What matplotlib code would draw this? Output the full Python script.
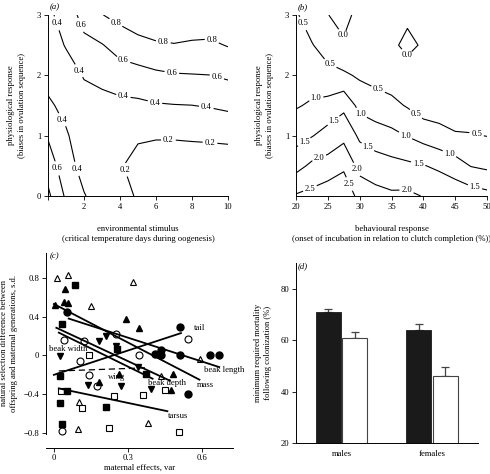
import numpy as np
import matplotlib
matplotlib.use("Agg")
import matplotlib.pyplot as plt

plt.rcParams['font.family'] = ['Liberation Serif', 'DejaVu Serif']
plt.rcParams['font.size'] = 6.2
plt.rcParams['axes.linewidth'] = 0.7

# ---------------- data ----------------
# (a) grid
a_x = [0, 1, 2, 3, 4, 5, 6, 7, 8, 9, 10]
a_y = [0, 0.5, 1.0, 1.5, 2.0, 2.5, 3.0]
a_z = [
    [0.84, 0.57, 0.41, 0.32, 0.25, 0.185, 0.15, 0.13, 0.12, 0.11, 0.10],
    [0.72, 0.47, 0.34, 0.28, 0.21, 0.16, 0.14, 0.14, 0.15, 0.15, 0.15],
    [0.58, 0.42, 0.30, 0.28, 0.25, 0.215, 0.21, 0.21, 0.212, 0.215, 0.22],
    [0.43, 0.35, 0.34, 0.33, 0.35, 0.36, 0.384, 0.393, 0.398, 0.415, 0.444],
    [0.34, 0.33, 0.41, 0.46, 0.508, 0.53, 0.564, 0.585, 0.592, 0.598, 0.629],
    [0.32, 0.41, 0.53, 0.59, 0.68, 0.732, 0.77, 0.788, 0.771, 0.767, 0.81],
    [0.38, 0.44, 0.70, 0.795, 0.86, 0.93, 0.98, 0.99, 0.95, 0.93, 0.99],
]
a_levels = [0.2, 0.4, 0.6, 0.8]

# (b) grid
b_x = [20, 22.5, 25, 27.5, 30, 32.5, 35, 37.5, 40, 42.5, 45, 47.5, 50]
b_y = [0, 0.5, 1.0, 1.5, 2.0, 2.5, 3.0]
b_z = [
    [2.55, 2.65, 2.81, 2.95, 2.30, 2.15, 2.08, 2.10, 1.98, 1.85, 1.85, 1.75, 1.65],
    [1.83, 2.10, 2.19, 2.39, 1.85, 1.75, 1.66, 1.60, 1.52, 1.42, 1.22, 0.98, 0.90],
    [1.30, 1.475, 1.69, 1.87, 1.41, 1.23, 1.13, 0.98, 0.81, 0.65, 0.55, 0.53, 0.49],
    [0.96, 1.06, 1.16, 1.38, 0.85, 0.73, 0.63, 0.46, 0.25, 0.28, 0.20, 0.22, 0.20],
    [0.81, 0.78, 0.64, 0.58, 0.43, 0.33, 0.25, 0.18, 0.12, 0.15, 0.12, 0.12, 0.12],
    [0.66, 0.525, 0.29, 0.06, 0.15, 0.12, 0.08, -0.10, 0.05, 0.10, 0.10, 0.10, 0.10],
    [0.55, 0.27, 0.01, -0.15, 0.15, 0.05, 0.10, 0.08, 0.06, 0.08, 0.10, 0.10, 0.10],
]
b_levels = [0.0, 0.5, 1.0, 1.5, 2.0, 2.5]

# (c) scatter points per marker group
c_filled_circle_x = [0.053, 0.513, 0.41, 0.435, 0.435, 0.513, 0.632, 0.670, 0.543]
c_filled_circle_y = [0.45, 0.29, 0.01, 0.057, 0.0, 0.0, 0.0, 0.0, -0.40]
c_open_circle_x = [0.042, 0.122, 0.252, 0.343, 0.543, 0.104, 0.142, 0.175, 0.031]
c_open_circle_y = [0.16, 0.152, 0.222, 0.008, 0.172, -0.062, -0.205, -0.31, -0.78]
c_filled_tri_x = [0.004, 0.044, 0.040, 0.057, 0.294, 0.344, 0.265, 0.182, 0.482, 0.473]
c_filled_tri_y = [0.525, 0.685, 0.55, 0.54, 0.377, 0.287, -0.19, -0.275, -0.19, -0.36]
c_open_tri_x = [0.012, 0.057, 0.32, 0.151, 0.594, 0.433, 0.101, 0.099, 0.383]
c_open_tri_y = [0.80, 0.83, 0.755, 0.51, -0.038, -0.21, -0.48, -0.76, -0.70]
c_filled_sq_x = [0.084, 0.032, 0.256, 0.023, 0.374, 0.054, 0.023, 0.213, 0.034]
c_filled_sq_y = [0.725, 0.325, 0.07, -0.21, -0.187, -0.363, -0.49, -0.535, -0.708]
c_open_sq_x = [0.142, 0.029, 0.112, 0.243, 0.363, 0.451, 0.223, 0.507]
c_open_sq_y = [0.0, -0.37, -0.545, -0.415, -0.405, -0.353, -0.75, -0.785]
c_down_tri_x = [0.026, 0.183, 0.213, 0.25, 0.341, 0.14, 0.273, 0.394]
c_down_tri_y = [-0.01, 0.145, 0.205, 0.10, -0.115, -0.30, -0.32, -0.345]

c_line_names = ['tail', 'beak length', 'mass', 'beak depth', 'beak width', 'wing', 'tarsus']
c_line_x0 = [0.0, 0.06, 0.0, 0.01, 0.02, 0.02, 0.02]
c_line_y0 = [-0.20, 0.38, 0.53, 0.285, 0.235, -0.16, -0.34]
c_line_x1 = [0.515, 0.67, 0.59, 0.47, 0.40, 0.37, 0.46]
c_line_y1 = [0.23, -0.12, -0.25, -0.26, -0.24, -0.128, -0.575]

# (d) bars
d_groups = ['males', 'females']
d_black = [71.0, 64.0]
d_black_err = [1.0, 2.2]
d_white = [60.9, 45.9]
d_white_err = [2.2, 3.8]

# ---------------- figure ----------------
W, H = 490, 474
fig = plt.figure(figsize=(W / 100, H / 100), dpi=100)
FS = 6.2


def axes_px(l, t, r, b):
    return fig.add_axes([l / W, 1 - b / H, (r - l) / W, (b - t) / H])


def style(ax):
    ax.spines['top'].set_visible(False)
    ax.spines['right'].set_visible(False)
    ax.tick_params(direction='out', length=3, width=0.6, labelsize=FS, pad=2)


ylab_phys = 'physiological response\n(biases in ovulation sequence)'

# ---- (a)
axA = axes_px(48, 15, 228, 196)
style(axA)
csA = axA.contour(a_x, a_y, np.array(a_z), levels=a_levels, colors='k', linewidths=0.8)
labA = axA.clabel(csA, fmt='%.1f', inline=True, inline_spacing=2, fontsize=FS,
                  manual=[(0.57, 2.87), (1.78, 2.83), (3.72, 2.85), (6.4, 2.54), (9.1, 2.58),
                          (4.19, 2.26), (6.87, 2.03), (9.37, 1.96), (1.63, 2.06), (4.19, 1.67),
                          (5.94, 1.55), (8.8, 1.48), (6.69, 0.92), (9.0, 0.88), (4.19, 0.43),
                          (0.76, 1.26), (1.59, 0.45), (0.39, 0.45)])
for t in labA:
    t.set_rotation(0)
axA.set_xlim(0, 10)
axA.set_ylim(0, 3)
axA.set_xticks([0, 2, 4, 6, 8, 10])
axA.set_xticklabels(['', '2', '4', '6', '8', '10'])
axA.set_yticks([0, 1, 2, 3])
axA.set_xlabel('environmental stimulus\n(critical temperature days during oogenesis)',
               labelpad=10, linespacing=1.35, fontsize=FS)
axA.set_ylabel(ylab_phys, labelpad=8, linespacing=1.35, fontsize=FS)
fig.text(50 / W, 1 - 9 / H, '(a)', style='italic', fontsize=FS)

# ---- (b)
axB = axes_px(296, 15, 487, 196)
style(axB)
csB = axB.contour(b_x, b_y, np.array(b_z), levels=b_levels, colors='k', linewidths=0.8)
labB = axB.clabel(csB, fmt='%.1f', inline=True, inline_spacing=2, fontsize=FS,
                  manual=[(21.1, 2.86), (25.1, 2.14), (32.9, 1.77), (38.9, 1.37), (48.3, 1.0),
                          (23.2, 1.59), (30.0, 1.34), (37.1, 0.98), (43.9, 0.65),
                          (21.4, 0.88), (25.9, 1.25), (31.6, 0.87), (39.2, 0.54), (48.1, 0.15),
                          (23.8, 0.59), (29.3, 0.43), (37.4, 0.12),
                          (22.2, 0.12), (28.4, 0.2), (26.8, 2.62), (37.5, 2.35)])
for t in labB:
    t.set_rotation(0)
axB.set_xlim(20, 50)
axB.set_ylim(0, 3)
axB.set_xticks([20, 25, 30, 35, 40, 45, 50])
axB.set_yticks([1, 2, 3])
axB.set_xlabel('behavioural response\n(onset of incubation in relation to clutch completion (%))',
               labelpad=10, linespacing=1.35, fontsize=FS)
axB.set_ylabel(ylab_phys, labelpad=8, linespacing=1.35, fontsize=FS)
fig.text(298 / W, 1 - 9 / H, '(b)', style='italic', fontsize=FS)

# ---- (c)
axC = axes_px(46, 253, 233, 434)
style(axC)
axC.spines['bottom'].set_position(('outward', 10))
ms = 5
mew = 0.8
axC.plot(c_open_tri_x, c_open_tri_y, '^', ms=ms, mfc='white', mec='k', mew=mew, ls='none', clip_on=False)
axC.plot(c_open_sq_x, c_open_sq_y, 's', ms=4.5, mfc='white', mec='k', mew=mew, ls='none', clip_on=False)
axC.plot(c_open_circle_x, c_open_circle_y, 'o', ms=ms, mfc='white', mec='k', mew=mew, ls='none', clip_on=False)
axC.plot(c_filled_tri_x, c_filled_tri_y, '^', ms=ms, mfc='k', mec='k', ls='none', clip_on=False)
axC.plot(c_filled_sq_x, c_filled_sq_y, 's', ms=4.5, mfc='k', mec='k', ls='none', clip_on=False)
axC.plot(c_filled_circle_x, c_filled_circle_y, 'o', ms=ms, mfc='k', mec='k', ls='none', clip_on=False)
axC.plot(c_down_tri_x, c_down_tri_y, 'v', ms=ms, mfc='k', mec='k', ls='none', clip_on=False)
for name, x0, y0, x1, y1 in zip(c_line_names, c_line_x0, c_line_y0, c_line_x1, c_line_y1):
    if name == 'wing':
        axC.plot([x0, x1], [y0, y1], color='k', lw=0.9, ls=(0, (5, 3)))
    else:
        axC.plot([x0, x1], [y0, y1], color='k', lw=1.3)
lab_pos = {'tail': (0.566, 0.285), 'beak length': (0.607, -0.155), 'mass': (0.58, -0.30),
           'beak depth': (0.383, -0.28), 'beak width': (-0.02, 0.07), 'wing': (0.22, -0.223),
           'tarsus': (0.464, -0.62)}
for name in c_line_names:
    tx, ty = lab_pos[name]
    axC.text(tx, ty, name, fontsize=FS, ha='left', va='center')
axC.set_xlim(-0.032, 0.726)
axC.set_ylim(-0.81, 1.056)
axC.set_xticks([0, 0.3, 0.6])
axC.set_xticklabels(['0', '0.3', '0.6'])
axC.set_yticks([-0.8, -0.4, 0, 0.4, 0.8])
axC.set_yticklabels(['\u22120.8', '\u22120.4', '0', '0.4', '0.8'])
axC.tick_params(axis='x', pad=1.5)
axC.set_xlabel('maternal effects, var', labelpad=1, fontsize=FS)
axC.set_ylabel('natural selection difference between\noffspring and maternal generations, s.d.',
               labelpad=4, linespacing=1.35, fontsize=FS)
fig.text(50 / W, 1 - 258 / H, '(c)', style='italic', fontsize=FS)

# ---- (d)
axD = axes_px(296, 263, 478, 443)
style(axD)
xg = np.arange(len(d_groups))
bw = 0.276
off = 0.145
axD.bar(xg - off, d_black, width=bw, color='#1a1a1a', edgecolor='#1a1a1a', lw=0.6, zorder=2)
axD.bar(xg + off, d_white, width=bw, color='white', edgecolor='#444444', lw=0.8, zorder=2)
axD.errorbar(xg - off, d_black, yerr=[np.zeros(2), d_black_err], fmt='none',
             ecolor='#444444', elinewidth=0.9, capsize=3, capthick=0.9, zorder=1)
axD.errorbar(xg + off, d_white, yerr=[np.zeros(2), d_white_err], fmt='none',
             ecolor='#444444', elinewidth=0.9, capsize=3, capthick=0.9, zorder=1)
axD.set_xlim(-0.503, 1.508)
axD.set_ylim(20, 90)
axD.set_yticks([20, 40, 60, 80])
axD.set_xticks(xg)
axD.set_xticklabels(d_groups)
axD.tick_params(axis='x', length=0, pad=5)
axD.set_ylabel('minimum required mortality\nfollowing colonization (%)', labelpad=6,
               linespacing=1.35, fontsize=FS)
fig.text(298 / W, 1 - 268 / H, '(d)', style='italic', fontsize=FS)

fig.savefig('out.png', dpi=100)
